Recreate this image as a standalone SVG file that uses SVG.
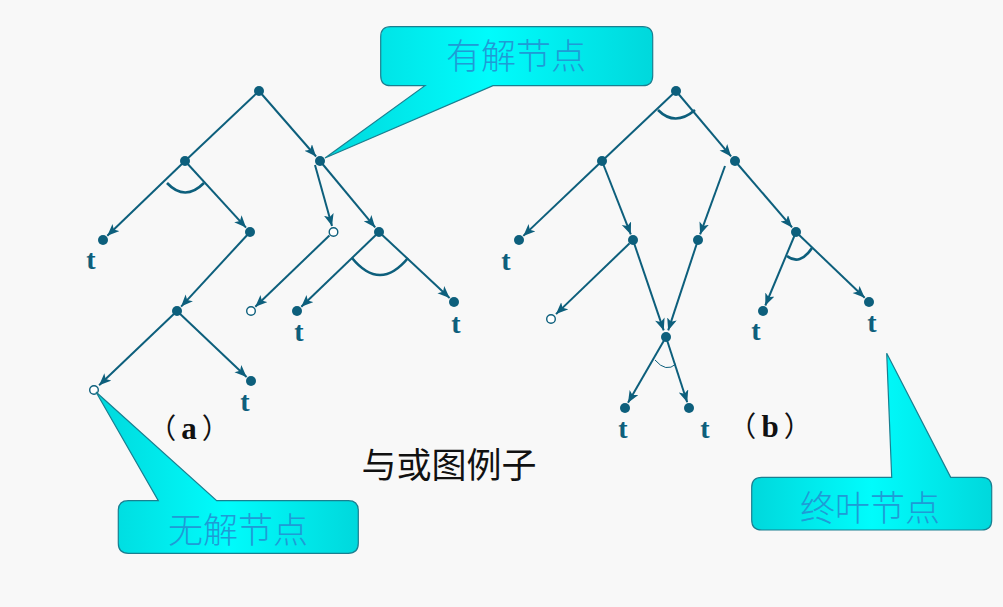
<svg xmlns="http://www.w3.org/2000/svg" width="1003" height="607" viewBox="0 0 1003 607">
<defs>
<marker id="ah" markerUnits="userSpaceOnUse" markerWidth="14" markerHeight="12" refX="12" refY="5" orient="auto">
<path d="M0,0 L12,5 L0,10 L3,5 Z" fill="#0d5f7c"/>
</marker>
<linearGradient id="cy" x1="0" y1="0" x2="1" y2="0">
<stop offset="0" stop-color="#00d8dc"/>
<stop offset="0.5" stop-color="#00fcfc"/>
<stop offset="1" stop-color="#00d8dc"/>
</linearGradient>
<style>
.e{stroke:#0d5f7c;stroke-width:2;fill:none}
.a{marker-end:url(#ah)}
.arc{stroke:#0d5f7c;stroke-width:2.6;fill:none}
.n{fill:#0d5f7c}
.o{fill:#fff;stroke:#0d5f7c;stroke-width:1.4}
.t{font-family:"Liberation Serif",serif;font-weight:bold;font-size:28px;fill:#0d5f7c;text-anchor:middle}
.lab{font-family:"Noto Sans CJK SC",sans-serif;font-size:28px;fill:#111;text-anchor:middle}
.lab .l{font-family:"Liberation Serif",serif;font-weight:bold;font-size:31px}
.cb{fill:url(#cy);stroke:#1a7f90;stroke-width:1.2}
.ct{font-family:"Noto Sans CJK SC",sans-serif;font-size:35px;font-weight:300;fill:#1f9bd6;text-anchor:middle}
.ti{font-family:"Noto Sans CJK SC",sans-serif;font-size:35px;fill:#111;text-anchor:middle}
</style>
</defs>
<rect width="1003" height="607" fill="#f8f8f8"/>

<g id="connectors">
<!-- tree a -->
<line class="e" x1="259" y1="91" x2="185" y2="161"/>
<line class="e a" x1="259" y1="91" x2="316.1" y2="156.5"/>
<line class="e a" x1="185" y1="161" x2="107.3" y2="235.8"/>
<line class="e a" x1="185" y1="161" x2="246" y2="227.6"/>
<line class="e a" x1="250" y1="232" x2="181.1" y2="306.6"/>
<line class="e a" x1="315" y1="165" x2="332" y2="226"/>
<line class="e a" x1="320" y1="161" x2="375.2" y2="227.4"/>
<line class="e a" x1="329.4" y1="235.5" x2="255.3" y2="306.8"/>
<line class="e a" x1="379" y1="232" x2="301.3" y2="306.8"/>
<line class="e a" x1="379" y1="232" x2="449.6" y2="297.9"/>
<line class="e a" x1="177" y1="311" x2="99.1" y2="385.2"/>
<line class="e a" x1="177" y1="311" x2="246.6" y2="376.9"/>
<path class="arc" d="M167,183 Q185,202 204,183"/>
<path class="arc" d="M352,258 Q380,292 408,258"/>
<!-- tree b -->
<line class="e" x1="676" y1="91" x2="602" y2="161"/>
<line class="e a" x1="676" y1="91" x2="731.1" y2="156.4"/>
<line class="e a" x1="602" y1="161" x2="523.3" y2="235.9"/>
<line class="e a" x1="602" y1="161" x2="630.8" y2="234.4"/>
<line class="e a" x1="725" y1="166" x2="700.1" y2="234.4"/>
<line class="e a" x1="735" y1="161" x2="792.1" y2="227.4"/>
<line class="e a" x1="629.4" y1="243.5" x2="556" y2="314.1"/>
<line class="e a" x1="633" y1="240" x2="663.7" y2="330.4"/>
<line class="e a" x1="698" y1="240" x2="668.2" y2="330.4"/>
<line class="e a" x1="666" y1="337" x2="628" y2="402.8"/>
<line class="e a" x1="666" y1="337" x2="687.2" y2="402.3"/>
<line class="e a" x1="796" y1="232" x2="765.3" y2="305.5"/>
<line class="e a" x1="796" y1="232" x2="864.7" y2="297.8"/>
<path class="arc" d="M658,110 Q675,127 695,110"/>
<path class="arc" d="M787,256 Q800,266 812,248"/>
<path d="M655,360 Q666,373 676,364" stroke="#0d5f7c" stroke-width="1" fill="none"/>
</g>

<g id="tree-a">
<circle class="n" cx="259" cy="91" r="5"/>
<circle class="n" cx="185" cy="161" r="5"/>
<circle class="n" cx="320" cy="161" r="5"/>
<circle class="n" cx="103" cy="240" r="5"/>
<circle class="n" cx="250" cy="232" r="5"/>
<circle class="o" cx="333.5" cy="232" r="4.3"/>
<circle class="n" cx="379" cy="232" r="5"/>
<circle class="n" cx="177" cy="311" r="5"/>
<circle class="o" cx="251" cy="311" r="4.3"/>
<circle class="n" cx="297" cy="311" r="5"/>
<circle class="n" cx="454" cy="302" r="5"/>
<circle class="o" cx="94" cy="390" r="4.3"/>
<circle class="n" cx="251" cy="381" r="5"/>
<text class="t" x="91" y="269">t</text>
<text class="t" x="299" y="341">t</text>
<text class="t" x="456" y="333">t</text>
<text class="t" x="245" y="411">t</text>
<text class="lab" x="189" y="439">（<tspan class="l" dx="5">a</tspan><tspan dx="5">）</tspan></text>
</g>

<g id="tree-b">
<circle class="n" cx="676" cy="91" r="5"/>
<circle class="n" cx="602" cy="161" r="5"/>
<circle class="n" cx="735" cy="161" r="5"/>
<circle class="n" cx="519" cy="240" r="5"/>
<circle class="n" cx="633" cy="240" r="5"/>
<circle class="n" cx="698" cy="240" r="5"/>
<circle class="n" cx="796" cy="232" r="5"/>
<circle class="o" cx="551" cy="319" r="4.3"/>
<circle class="n" cx="666" cy="337" r="5"/>
<circle class="n" cx="763" cy="311" r="5"/>
<circle class="n" cx="869" cy="302" r="5"/>
<circle class="n" cx="625" cy="408" r="5"/>
<circle class="n" cx="689" cy="408" r="5"/>
<text class="t" x="506" y="270">t</text>
<text class="t" x="756" y="340">t</text>
<text class="t" x="872" y="332">t</text>
<text class="t" x="623" y="438">t</text>
<text class="t" x="705" y="438">t</text>
<text class="lab" x="770" y="437">（<tspan class="l" dx="5">b</tspan><tspan dx="5">）</tspan></text>
</g>

<g id="callout-solved">
<path class="cb" d="M390.7,26.7 H642.7 Q652.7,26.7 652.7,36.7 V75.7 Q652.7,85.7 642.7,85.7 H493 L325,158 L425,85.7 H390.7 Q380.7,85.7 380.7,75.7 V36.7 Q380.7,26.7 390.7,26.7 Z"/>
<text class="ct" x="516" y="69">有解节点</text>
</g>

<g id="callout-unsolved">
<path class="cb" d="M128.3,500.7 H158.3 L96,392 L216.7,500.7 H348.3 Q358.3,500.7 358.3,510.7 V543.3 Q358.3,553.3 348.3,553.3 H128.3 Q118.3,553.3 118.3,543.3 V510.7 Q118.3,500.7 128.3,500.7 Z"/>
<text class="ct" x="238" y="543">无解节点</text>
</g>

<g id="callout-terminal">
<path class="cb" d="M761.7,477.3 H891.7 L886.7,353.3 L950.7,477.3 H981.7 Q991.7,477.3 991.7,487.3 V520 Q991.7,530 981.7,530 H761.7 Q751.7,530 751.7,520 V487.3 Q751.7,477.3 761.7,477.3 Z"/>
<text class="ct" x="870" y="521">终叶节点</text>
</g>

<g id="title">
<text class="ti" x="449" y="478">与或图例子</text>
</g>
</svg>
